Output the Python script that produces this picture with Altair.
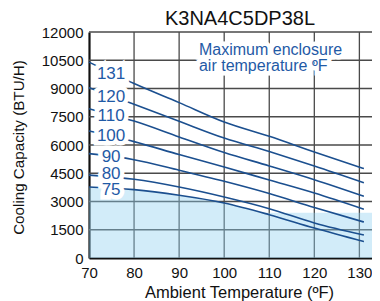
import altair as alt
import pandas as pd

# ---- data ----
x_pts = [70, 80, 90, 100, 110, 120, 131]
series = {
    "131": [10400, 9260, 8250, 7220, 6460, 5630, 4750],
    "120": [9050, 8160, 7260, 6370, 5650, 4890, 4000],
    "110": [7930, 7270, 6430, 5600, 4890, 4160, 3280],
    "100": [6740, 6180, 5490, 4830, 4140, 3450, 2590],
    "90": [5540, 5220, 4660, 4070, 3420, 2680, 1910],
    "80": [4400, 4180, 3770, 3240, 2620, 1860, 1220],
    "75": [3770, 3630, 3330, 2920, 2300, 1590, 870],
}
label_names = ["131", "120", "110", "100", "90", "80", "75"]
label_x = [74.9, 74.9, 74.9, 74.9, 74.9, 74.9, 74.9]
label_y = [9790, 8550, 7520, 6480, 5360, 4480, 3600]

shade_x = [70, 80, 90, 100, 108.4, 132.8]
shade_y = [3770, 3630, 3330, 2920, 2400, 2400]

note_lines = ["Maximum enclosure", "air temperature ºF"]
note_x = [94.4, 94.4]
note_y = [10760, 9930]

x_ticks = [70, 80, 90, 100, 110, 120, 130]
y_ticks = [0, 1500, 3000, 4500, 6000, 7500, 9000, 10500, 12000]

title_text = "K3NA4C5DP38L"
x_title = "Ambient Temperature (ºF)"
y_title = "Cooling Capacity (BTU/H)"

# ---- tables ----
rows = []
for name, vals in series.items():
    for xv, yv in zip(x_pts, vals):
        rows.append({"series": name, "x": xv, "y": yv})
lines_df = pd.DataFrame(rows)
labels_df = pd.DataFrame({"name": label_names, "x": label_x, "y": label_y})
shade_df = pd.DataFrame({"x": shade_x, "y": shade_y})
note_df = pd.DataFrame({"t": note_lines, "x": note_x, "y": note_y})
vgrid_df = pd.DataFrame({"x": x_ticks[1:]})
hgrid_df = pd.DataFrame({"y": y_ticks[1:]})

FONT = "Liberation Sans"
BLUE_TXT = "#1f5aa6"
BLUE_LINE = "#1b4f8f"
GRID = "#4a4a4a"

xs = alt.Scale(domain=[70, 132.8], nice=False, zero=False)
ys = alt.Scale(domain=[0, 12000], nice=False)

x_axis = alt.Axis(values=x_ticks, title=x_title, format="d", grid=False,
                  labelOverlap=False, titleX=150, titleY=39,
                  titleBaseline="alphabetic", titleFontSize=16.5)
y_axis = alt.Axis(values=y_ticks, title=y_title, format="d", grid=False,
                  labelOverlap=False, titleX=-66, titleY=115,
                  titleBaseline="alphabetic", titleFontSize=15.2)

X = lambda: alt.X("x:Q", scale=xs, axis=x_axis)
Y = lambda: alt.Y("y:Q", scale=ys, axis=y_axis)

vgrid = alt.Chart(vgrid_df).mark_rule(color=GRID, strokeWidth=1.3).encode(x=X())
hgrid = alt.Chart(hgrid_df).mark_rule(color=GRID, strokeWidth=1.3).encode(y=Y())

shade = alt.Chart(shade_df).mark_area(color="#8fd0f0", opacity=0.4).encode(
    x=X(), y=Y()
)

lines = alt.Chart(lines_df).mark_line(
    color=BLUE_LINE, strokeWidth=1.6, interpolate="monotone"
).encode(x=X(), y=Y(), detail="series:N")

halo = alt.Chart(labels_df).mark_text(
    font=FONT, fontSize=17, stroke="white", strokeWidth=9, fill="white",
    align="center", baseline="middle",
).encode(x=X(), y=Y(), text="name:N")

labels = alt.Chart(labels_df).mark_text(
    font=FONT, fontSize=17, color=BLUE_TXT, align="center", baseline="middle",
).encode(x=X(), y=Y(), text="name:N")

note_halo = alt.Chart(note_df).mark_text(
    font=FONT, fontSize=16, stroke="white", strokeWidth=9, fill="white",
    align="left", baseline="alphabetic",
).encode(x=X(), y=Y(), text="t:N")

note = alt.Chart(note_df).mark_text(
    font=FONT, fontSize=16, color=BLUE_TXT, align="left", baseline="alphabetic",
).encode(x=X(), y=Y(), text="t:N")

title = alt.Chart(pd.DataFrame({"t": [title_text]})).mark_text(
    font=FONT, fontSize=20, color="#111", align="center", baseline="alphabetic",
).encode(x=alt.value(151), y=alt.value(-7), text="t:N")

chart = alt.layer(vgrid, hgrid, shade, lines, halo, labels, note_halo, note,
                  title).properties(
    width=283,
    height=226,
    autosize=alt.AutoSizeParams(type="none"),
    padding={"left": 81, "top": 24, "right": 0, "bottom": 43},
).configure_view(stroke=None).configure_axis(
    labelFont=FONT, titleFont=FONT, labelFontSize=15,
    labelColor="#111", titleColor="#111", titleFontWeight="normal",
    ticks=False, grid=False, labelOverlap=False,
    domainColor="#111", domainWidth=2.2,
).configure_axisY(
    labelPadding=6,
).configure_axisX(
    labelPadding=7, labelFlush=False,
)

chart.save("out.html", embed_options={"renderer": "svg", "actions": False})
